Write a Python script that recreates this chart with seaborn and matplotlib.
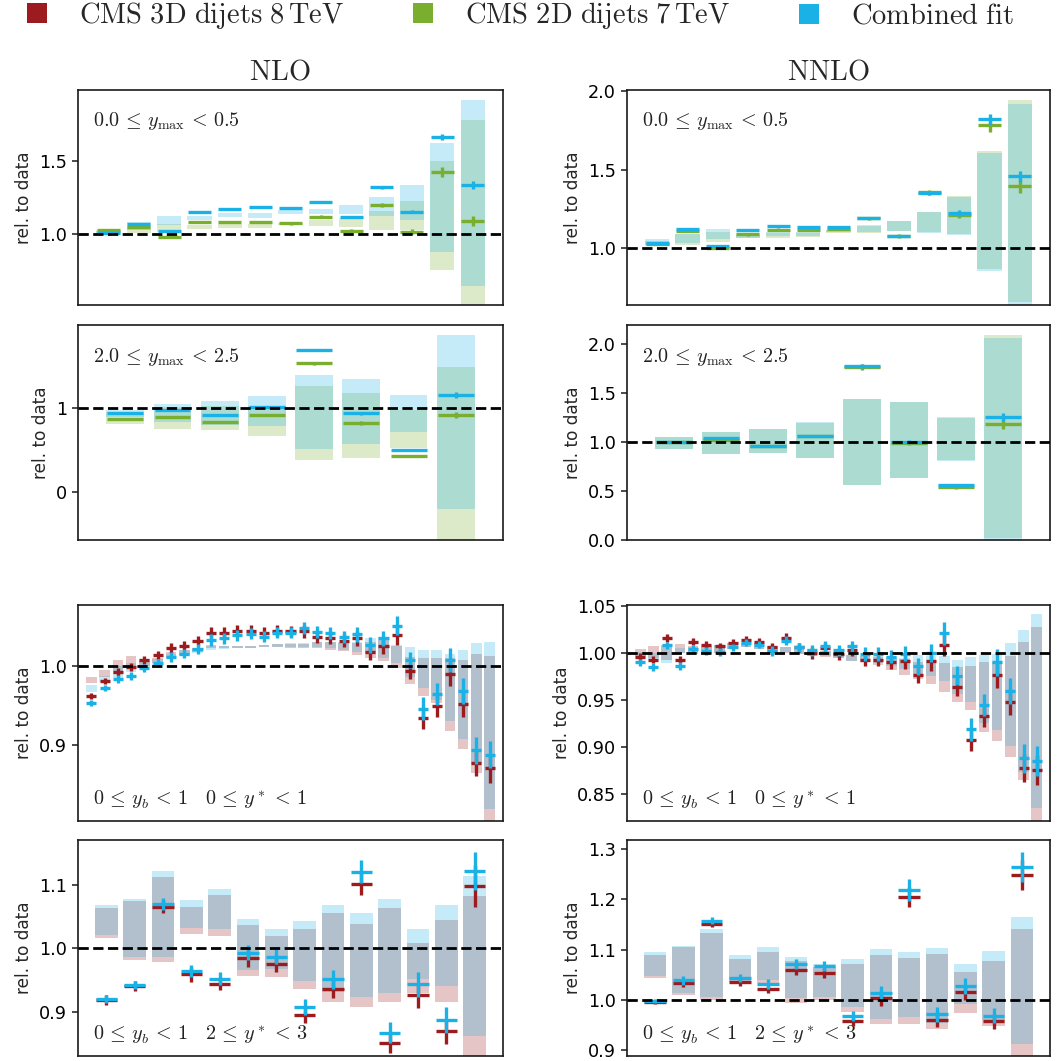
import numpy as np
import matplotlib
matplotlib.use("Agg")
import matplotlib.pyplot as plt
from matplotlib.patches import Patch
import seaborn as sns

# ---------------------------------------------------------------------------
# Colours
# ---------------------------------------------------------------------------
RED = "#9b1b1e"
GREEN = "#7aae2e"
BLUE = "#1ab2e6"
palette = sns.color_palette([RED, GREEN, BLUE])

# ---------------------------------------------------------------------------
# NLO, 2D dijets 7 TeV, 0.0 <= ymax < 0.5
# ---------------------------------------------------------------------------
nlo_y0_ds_pt = [1.025, 1.048, 0.977, 1.080, 1.080, 1.084, 1.073, 1.119, 1.023, 1.199, 1.016, 1.422, 1.091]
nlo_y0_ds_err = [0.004, 0.005, 0.005, 0.006, 0.006, 0.008, 0.008, 0.012, 0.012, 0.015, 0.015, 0.035, 0.035]
nlo_y0_ds_lo = [1.005, 1.005, 1.012, 1.034, 1.039, 1.039, 1.060, 1.055, 1.050, 1.027, 1.027, 0.753, 0.450]
nlo_y0_ds_hi = [1.030, 1.050, 1.066, 1.062, 1.066, 1.068, 1.075, 1.096, 1.110, 1.160, 1.226, 1.500, 1.781]
nlo_y0_cb_pt = [1.010, 1.066, 1.020, 1.153, 1.174, 1.185, 1.176, 1.221, 1.116, 1.320, 1.151, 1.662, 1.336]
nlo_y0_cb_err = [0.004, 0.004, 0.004, 0.005, 0.005, 0.006, 0.006, 0.008, 0.008, 0.010, 0.010, 0.020, 0.025]
nlo_y0_cb_lo = [1.000, 1.030, 1.060, 1.096, 1.114, 1.107, 1.137, 1.135, 1.135, 1.120, 1.096, 0.879, 0.644]
nlo_y0_cb_hi = [1.020, 1.085, 1.123, 1.123, 1.142, 1.146, 1.164, 1.171, 1.199, 1.253, 1.336, 1.623, 1.918]

# ---------------------------------------------------------------------------
# NNLO, 2D dijets 7 TeV, 0.0 <= ymax < 0.5
# ---------------------------------------------------------------------------
nnlo_y0_ds_pt = [1.025, 1.108, 1.000, 1.089, 1.117, 1.117, 1.123, 1.191, 1.078, 1.356, 1.212, 1.780, 1.398]
nnlo_y0_ds_err = [0.004, 0.006, 0.006, 0.008, 0.010, 0.010, 0.010, 0.010, 0.010, 0.015, 0.020, 0.040, 0.045]
nnlo_y0_ds_lo = [1.015, 1.021, 1.042, 1.064, 1.068, 1.074, 1.100, 1.100, 1.110, 1.104, 1.090, 0.867, 0.657]
nnlo_y0_ds_hi = [1.045, 1.089, 1.106, 1.085, 1.095, 1.100, 1.117, 1.146, 1.174, 1.233, 1.333, 1.619, 1.943]
nnlo_y0_cb_pt = [1.036, 1.123, 1.017, 1.114, 1.142, 1.136, 1.133, 1.191, 1.078, 1.352, 1.225, 1.820, 1.458]
nnlo_y0_cb_err = [0.004, 0.005, 0.005, 0.006, 0.008, 0.008, 0.008, 0.008, 0.008, 0.012, 0.018, 0.035, 0.035]
nnlo_y0_cb_lo = [1.020, 1.032, 1.059, 1.068, 1.075, 1.075, 1.102, 1.102, 1.110, 1.100, 1.087, 0.856, 0.620]
nnlo_y0_cb_hi = [1.057, 1.093, 1.123, 1.090, 1.106, 1.106, 1.117, 1.144, 1.174, 1.229, 1.328, 1.608, 1.917]

# ---------------------------------------------------------------------------
# NLO, 2D dijets 7 TeV, 2.0 <= ymax < 2.5
# ---------------------------------------------------------------------------
nlo_y2_ds_pt = [0.869, 0.893, 0.833, 0.917, 1.532, 0.825, 0.425, 0.917]
nlo_y2_ds_err = [0.010, 0.010, 0.010, 0.012, 0.015, 0.020, 0.010, 0.040]
nlo_y2_ds_lo = [0.813, 0.754, 0.742, 0.671, 0.385, 0.409, 0.528, -0.650]
nlo_y2_ds_hi = [0.950, 1.012, 1.020, 1.020, 1.266, 1.183, 0.980, 1.492]
nlo_y2_cb_pt = [0.948, 0.980, 0.913, 1.012, 1.698, 0.937, 0.500, 1.155]
nlo_y2_cb_err = [0.008, 0.008, 0.008, 0.010, 0.012, 0.015, 0.008, 0.035]
nlo_y2_cb_lo = [0.900, 0.830, 0.800, 0.790, 0.516, 0.575, 0.718, -0.198]
nlo_y2_cb_hi = [0.980, 1.048, 1.087, 1.147, 1.397, 1.349, 1.159, 1.873]

# ---------------------------------------------------------------------------
# NNLO, 2D dijets 7 TeV, 2.0 <= ymax < 2.5
# ---------------------------------------------------------------------------
nnlo_y2_ds_pt = [0.997, 1.024, 0.963, 1.058, 1.772, 0.990, 0.541, 1.187]
nnlo_y2_ds_err = [0.008, 0.010, 0.010, 0.010, 0.030, 0.020, 0.015, 0.050]
nnlo_y2_ds_lo = [0.935, 0.875, 0.884, 0.833, 0.565, 0.636, 0.813, 0.020]
nnlo_y2_ds_hi = [1.050, 1.100, 1.133, 1.200, 1.442, 1.412, 1.258, 2.095]
nnlo_y2_cb_pt = [1.003, 1.041, 0.963, 1.061, 1.779, 1.003, 0.558, 1.259]
nnlo_y2_cb_err = [0.006, 0.008, 0.008, 0.008, 0.020, 0.015, 0.010, 0.040]
nnlo_y2_cb_lo = [0.935, 0.881, 0.888, 0.837, 0.565, 0.636, 0.803, -0.010]
nnlo_y2_cb_hi = [1.050, 1.108, 1.135, 1.207, 1.442, 1.412, 1.248, 2.061]

# ---------------------------------------------------------------------------
# NLO, 3D dijets 8 TeV, 0 <= yb < 1, 0 <= y* < 1
# ---------------------------------------------------------------------------
nlo_ys0_ds_pt = [0.962, 0.981, 0.992, 0.998, 1.007, 1.013, 1.022, 1.025, 1.031, 1.041, 1.041,
                 1.044, 1.044, 1.041, 1.044, 1.043, 1.043, 1.036, 1.035, 1.031, 1.034, 1.017,
                 1.024, 1.038, 0.993, 0.934, 0.949, 0.990, 0.952, 0.878, 0.871]
nlo_ys0_ds_err = [0.004, 0.004, 0.005, 0.005, 0.005, 0.005, 0.006, 0.006, 0.006, 0.007, 0.007,
                  0.007, 0.007, 0.007, 0.007, 0.007, 0.008, 0.008, 0.008, 0.008, 0.009, 0.010,
                  0.010, 0.012, 0.010, 0.014, 0.014, 0.015, 0.016, 0.017, 0.018]
nlo_ys0_ds_lo = [0.978, 0.986, 0.990, 0.997, 1.000, 1.003, 1.009, 1.013, 1.017, 1.022, 1.022,
                 1.022, 1.022, 1.023, 1.023, 1.022, 1.022, 1.022, 1.020, 1.018, 1.013, 1.010,
                 1.006, 0.997, 0.977, 0.962, 0.953, 0.918, 0.895, 0.865, 0.800]
nlo_ys0_ds_hi = [0.986, 0.994, 1.007, 1.012, 1.008, 1.010, 1.017, 1.020, 1.022, 1.026, 1.025,
                 1.025, 1.025, 1.026, 1.027, 1.027, 1.027, 1.029, 1.029, 1.028, 1.028, 1.030,
                 1.032, 1.025, 1.011, 1.010, 1.009, 1.009, 1.007, 1.014, 1.012]
nlo_ys0_cb_pt = [0.953, 0.972, 0.983, 0.987, 0.997, 1.003, 1.011, 1.015, 1.021, 1.032, 1.034,
                 1.038, 1.040, 1.036, 1.041, 1.041, 1.047, 1.042, 1.041, 1.036, 1.039, 1.026,
                 1.034, 1.050, 1.007, 0.946, 0.964, 1.007, 0.968, 0.894, 0.888]
nlo_ys0_cb_err = [0.004, 0.004, 0.005, 0.005, 0.005, 0.005, 0.006, 0.006, 0.006, 0.007, 0.007,
                  0.007, 0.007, 0.007, 0.007, 0.007, 0.008, 0.008, 0.008, 0.008, 0.009, 0.010,
                  0.010, 0.012, 0.010, 0.014, 0.014, 0.015, 0.016, 0.017, 0.017]
nlo_ys0_cb_lo = [0.967, 0.979, 0.985, 0.992, 0.998, 1.001, 1.008, 1.012, 1.016, 1.020, 1.021,
                 1.022, 1.022, 1.023, 1.023, 1.023, 1.023, 1.023, 1.022, 1.020, 1.017, 1.014,
                 1.010, 1.003, 0.986, 0.972, 0.957, 0.930, 0.908, 0.877, 0.820]
nlo_ys0_cb_hi = [0.976, 0.987, 0.999, 1.003, 1.006, 1.008, 1.015, 1.019, 1.021, 1.024, 1.024,
                 1.024, 1.025, 1.026, 1.027, 1.028, 1.028, 1.030, 1.030, 1.030, 1.030, 1.034,
                 1.036, 1.026, 1.023, 1.020, 1.020, 1.014, 1.020, 1.028, 1.029]

# ---------------------------------------------------------------------------
# NNLO, 3D dijets 8 TeV, 0 <= yb < 1, 0 <= y* < 1
# ---------------------------------------------------------------------------
nnlo_ys0_ds_pt = [0.996, 0.993, 1.016, 0.993, 1.012, 1.009, 1.007, 1.011, 1.014, 1.012, 1.006,
                  1.016, 1.006, 1.000, 1.005, 0.999, 1.003, 0.993, 0.993, 0.990, 0.991, 0.977,
                  0.991, 1.009, 0.964, 0.908, 0.933, 0.977, 0.948, 0.878, 0.876]
nnlo_ys0_ds_err = [0.004, 0.004, 0.004, 0.004, 0.004, 0.004, 0.004, 0.004, 0.004, 0.004, 0.005,
                   0.005, 0.005, 0.006, 0.006, 0.006, 0.006, 0.007, 0.007, 0.007, 0.008, 0.009,
                   0.010, 0.012, 0.010, 0.012, 0.012, 0.014, 0.014, 0.015, 0.016]
nnlo_ys0_ds_lo = [0.997, 0.995, 0.993, 1.000, 0.999, 0.999, 1.000, 1.004, 1.006, 1.004, 1.000,
                  1.000, 0.999, 0.997, 0.996, 0.995, 0.991, 0.990, 0.987, 0.982, 0.977, 0.972,
                  0.967, 0.959, 0.948, 0.939, 0.916, 0.907, 0.890, 0.865, 0.815]
nnlo_ys0_ds_hi = [1.004, 1.007, 1.009, 1.010, 1.007, 1.007, 1.009, 1.011, 1.011, 1.011, 1.007,
                  1.006, 1.004, 1.004, 1.002, 1.000, 0.998, 0.997, 0.996, 0.995, 0.994, 0.990,
                  0.990, 0.989, 0.985, 0.986, 0.990, 0.990, 0.997, 1.012, 1.028]
nnlo_ys0_cb_pt = [0.990, 0.985, 1.008, 0.986, 1.004, 1.002, 1.001, 1.006, 1.011, 1.009, 1.002,
                  1.013, 1.006, 1.003, 1.007, 1.003, 1.007, 0.999, 0.999, 0.996, 0.999, 0.986,
                  1.000, 1.021, 0.976, 0.919, 0.945, 0.990, 0.960, 0.888, 0.885]
nnlo_ys0_cb_err = [0.004, 0.004, 0.004, 0.004, 0.004, 0.004, 0.004, 0.004, 0.004, 0.004, 0.005,
                   0.005, 0.005, 0.006, 0.006, 0.006, 0.006, 0.007, 0.007, 0.007, 0.008, 0.009,
                   0.010, 0.012, 0.010, 0.012, 0.012, 0.014, 0.014, 0.015, 0.016]
nnlo_ys0_cb_lo = [0.995, 0.993, 0.989, 1.000, 0.999, 0.999, 1.000, 1.004, 1.006, 1.004, 1.000,
                  1.001, 0.999, 0.997, 0.997, 0.995, 0.992, 0.991, 0.989, 0.986, 0.983, 0.977,
                  0.976, 0.970, 0.956, 0.948, 0.926, 0.918, 0.901, 0.874, 0.835]
nnlo_ys0_cb_hi = [1.001, 1.000, 1.007, 1.005, 1.006, 1.006, 1.008, 1.011, 1.011, 1.011, 1.007,
                  1.006, 1.004, 1.004, 1.002, 1.000, 0.998, 0.997, 0.997, 0.997, 0.995, 0.998,
                  0.997, 0.997, 0.993, 0.996, 0.998, 0.999, 1.011, 1.024, 1.041]

# ---------------------------------------------------------------------------
# NLO, 3D dijets 8 TeV, 0 <= yb < 1, 2 <= y* < 3
# ---------------------------------------------------------------------------
nlo_ys2_ds_pt = [0.919, 0.941, 1.066, 0.959, 0.944, 0.984, 0.976, 0.895, 0.936, 1.102, 0.851, 0.926, 0.869, 1.099]
nlo_ys2_ds_err = [0.008, 0.008, 0.010, 0.012, 0.010, 0.013, 0.013, 0.013, 0.015, 0.018, 0.017, 0.020, 0.020, 0.033]
nlo_ys2_ds_lo = [1.016, 0.981, 0.978, 1.022, 1.019, 0.956, 0.955, 0.935, 0.916, 0.907, 0.915, 0.930, 0.915, 0.820]
nlo_ys2_ds_hi = [1.064, 1.074, 1.112, 1.066, 1.084, 1.037, 1.019, 1.030, 1.055, 1.039, 1.063, 1.009, 1.044, 1.082]
nlo_ys2_cb_pt = [0.920, 0.942, 1.070, 0.964, 0.952, 0.993, 0.987, 0.907, 0.951, 1.121, 0.867, 0.943, 0.887, 1.122]
nlo_ys2_cb_err = [0.007, 0.007, 0.010, 0.010, 0.010, 0.012, 0.012, 0.013, 0.015, 0.018, 0.017, 0.020, 0.020, 0.030]
nlo_ys2_cb_lo = [1.021, 0.986, 0.987, 1.032, 1.030, 0.965, 0.968, 0.948, 0.931, 0.923, 0.930, 0.952, 0.940, 0.861]
nlo_ys2_cb_hi = [1.068, 1.078, 1.122, 1.076, 1.094, 1.047, 1.031, 1.043, 1.069, 1.055, 1.078, 1.031, 1.069, 1.114]

# ---------------------------------------------------------------------------
# NNLO, 3D dijets 8 TeV, 0 <= yb < 1, 2 <= y* < 3
# ---------------------------------------------------------------------------
nnlo_ys2_ds_pt = [0.996, 1.034, 1.152, 1.036, 1.023, 1.060, 1.054, 0.958, 1.004, 1.205, 0.961, 1.016, 0.958, 1.248]
nnlo_ys2_ds_err = [0.004, 0.008, 0.007, 0.008, 0.009, 0.010, 0.010, 0.010, 0.015, 0.020, 0.015, 0.015, 0.015, 0.030]
nnlo_ys2_ds_lo = [1.043, 1.011, 1.000, 1.035, 1.034, 0.995, 1.000, 0.977, 0.952, 0.953, 0.943, 0.975, 0.949, 0.880]
nnlo_ys2_ds_hi = [1.090, 1.105, 1.134, 1.082, 1.095, 1.077, 1.066, 1.072, 1.090, 1.084, 1.092, 1.055, 1.078, 1.142]
nnlo_ys2_cb_pt = [0.999, 1.039, 1.158, 1.044, 1.032, 1.072, 1.067, 0.969, 1.014, 1.219, 0.972, 1.028, 0.969, 1.264]
nnlo_ys2_cb_err = [0.004, 0.008, 0.007, 0.008, 0.009, 0.010, 0.010, 0.010, 0.015, 0.022, 0.015, 0.015, 0.015, 0.030]
nnlo_ys2_cb_lo = [1.047, 1.015, 1.006, 1.040, 1.040, 1.004, 1.007, 0.987, 0.963, 0.966, 0.954, 0.993, 0.961, 0.913]
nnlo_ys2_cb_hi = [1.095, 1.108, 1.142, 1.089, 1.105, 1.086, 1.072, 1.081, 1.102, 1.096, 1.104, 1.072, 1.098, 1.166]

# ---------------------------------------------------------------------------
# Labels
# ---------------------------------------------------------------------------
legend_labels = [r"$\mathrm{CMS\ 3D\ dijets\ 8\,TeV}$",
                 r"$\mathrm{CMS\ 2D\ dijets\ 7\,TeV}$",
                 r"$\mathrm{Combined\ fit}$"]
column_titles = [r"$\mathrm{NLO}$", r"$\mathrm{NNLO}$"]
bin_y0 = r"$0.0\,\leq\,y_{\mathrm{max}}\,<\,0.5$"
bin_y2 = r"$2.0\,\leq\,y_{\mathrm{max}}\,<\,2.5$"
bin_ys0 = r"$0\,\leq\,y_b\,<\,1\quad 0\,\leq\,y^*\,<\,1$"
bin_ys2 = r"$0\,\leq\,y_b\,<\,1\quad 2\,\leq\,y^*\,<\,3$"

# ---------------------------------------------------------------------------
# Style
# ---------------------------------------------------------------------------
sns.set_style("ticks")
plt.rcParams["font.family"] = ["DejaVu Sans"]
plt.rcParams["mathtext.fontset"] = "cm"
plt.rcParams["axes.edgecolor"] = "#1a1a1a"
plt.rcParams["axes.linewidth"] = 1.2
plt.rcParams["ytick.major.width"] = 1.1
plt.rcParams["ytick.major.size"] = 4.5
plt.rcParams["ytick.color"] = "#1a1a1a"
plt.rcParams["ytick.labelcolor"] = "black"

W, H = 1059, 1061
fig = plt.figure(figsize=(W / 100, H / 100), dpi=100)


def add_axes_px(x0, y0, x1, y1):
    return fig.add_axes([x0 / W, 1 - y1 / H, (x1 - x0) / W, (y1 - y0) / H])


def draw_panel(ax, ds_color, ds_pt, ds_err, ds_lo, ds_hi, cb_pt, cb_err, cb_lo, cb_hi,
               ylim, yticks, yticklabels, label, label_y):
    n = len(ds_pt)
    x = np.arange(n)
    ds_lo, ds_hi = np.asarray(ds_lo), np.asarray(ds_hi)
    cb_lo, cb_hi = np.asarray(cb_lo), np.asarray(cb_hi)
    ax.bar(x, ds_hi - ds_lo, bottom=ds_lo, width=0.8, color=ds_color, alpha=0.25,
           linewidth=0, zorder=1)
    ax.bar(x, cb_hi - cb_lo, bottom=cb_lo, width=0.8, color=BLUE, alpha=0.25,
           linewidth=0, zorder=2)
    ax.errorbar(x, ds_pt, xerr=0.38, yerr=ds_err, fmt="none", ecolor=ds_color,
                elinewidth=2.4, capsize=0, zorder=4)
    ax.errorbar(x, cb_pt, xerr=0.38, yerr=cb_err, fmt="none", ecolor=BLUE,
                elinewidth=2.4, capsize=0, zorder=5)
    ax.axhline(1.0, color="black", ls="--", lw=2.0, zorder=6)
    ax.set_xlim(-1, n)
    ax.set_ylim(*ylim)
    ax.set_xticks([])
    ax.set_yticks(yticks)
    ax.set_yticklabels(yticklabels)
    ax.tick_params(axis="y", labelsize=12.7)
    ax.set_ylabel("rel. to data", fontsize=12.2)
    ax.text(0.036, label_y, label, transform=ax.transAxes, ha="left", va="center",
            fontsize=14.5, color="#222222")


LEFT = (78, 503)
RIGHT = (627, 1050)
ROWS = [(90, 305), (325, 540), (605, 821), (840, 1056)]

panels = [
    (LEFT, ROWS[0], GREEN, nlo_y0_ds_pt, nlo_y0_ds_err, nlo_y0_ds_lo, nlo_y0_ds_hi,
     nlo_y0_cb_pt, nlo_y0_cb_err, nlo_y0_cb_lo, nlo_y0_cb_hi,
     (0.514, 1.986), [1.0, 1.5], ["1.0", "1.5"], bin_y0, 0.856),
    (RIGHT, ROWS[0], GREEN, nnlo_y0_ds_pt, nnlo_y0_ds_err, nnlo_y0_ds_lo, nnlo_y0_ds_hi,
     nnlo_y0_cb_pt, nnlo_y0_cb_err, nnlo_y0_cb_lo, nnlo_y0_cb_hi,
     (0.64, 2.005), [1.0, 1.5, 2.0], ["1.0", "1.5", "2.0"], bin_y0, 0.856),
    (LEFT, ROWS[1], GREEN, nlo_y2_ds_pt, nlo_y2_ds_err, nlo_y2_ds_lo, nlo_y2_ds_hi,
     nlo_y2_cb_pt, nlo_y2_cb_err, nlo_y2_cb_lo, nlo_y2_cb_hi,
     (-0.57, 1.99), [0, 1], ["0", "1"], bin_y2, 0.853),
    (RIGHT, ROWS[1], GREEN, nnlo_y2_ds_pt, nnlo_y2_ds_err, nnlo_y2_ds_lo, nnlo_y2_ds_hi,
     nnlo_y2_cb_pt, nnlo_y2_cb_err, nnlo_y2_cb_lo, nnlo_y2_cb_hi,
     (0.0, 2.197), [0.0, 0.5, 1.0, 1.5, 2.0], ["0.0", "0.5", "1.0", "1.5", "2.0"], bin_y2, 0.853),
    (LEFT, ROWS[2], RED, nlo_ys0_ds_pt, nlo_ys0_ds_err, nlo_ys0_ds_lo, nlo_ys0_ds_hi,
     nlo_ys0_cb_pt, nlo_ys0_cb_err, nlo_ys0_cb_lo, nlo_ys0_cb_hi,
     (0.805, 1.076), [0.9, 1.0], ["0.9", "1.0"], bin_ys0, 0.098),
    (RIGHT, ROWS[2], RED, nnlo_ys0_ds_pt, nnlo_ys0_ds_err, nnlo_ys0_ds_lo, nnlo_ys0_ds_hi,
     nnlo_ys0_cb_pt, nnlo_ys0_cb_err, nnlo_ys0_cb_lo, nnlo_ys0_cb_hi,
     (0.8216, 1.051), [0.85, 0.90, 0.95, 1.00, 1.05], ["0.85", "0.90", "0.95", "1.00", "1.05"],
     bin_ys0, 0.098),
    (LEFT, ROWS[3], RED, nlo_ys2_ds_pt, nlo_ys2_ds_err, nlo_ys2_ds_lo, nlo_ys2_ds_hi,
     nlo_ys2_cb_pt, nlo_ys2_cb_err, nlo_ys2_cb_lo, nlo_ys2_cb_hi,
     (0.830, 1.171), [0.9, 1.0, 1.1], ["0.9", "1.0", "1.1"], bin_ys2, 0.098),
    (RIGHT, ROWS[3], RED, nnlo_ys2_ds_pt, nnlo_ys2_ds_err, nnlo_ys2_ds_lo, nnlo_ys2_ds_hi,
     nnlo_ys2_cb_pt, nnlo_ys2_cb_err, nnlo_ys2_cb_lo, nnlo_ys2_cb_hi,
     (0.889, 1.318), [0.9, 1.0, 1.1, 1.2, 1.3], ["0.9", "1.0", "1.1", "1.2", "1.3"],
     bin_ys2, 0.098),
]

for (cx, ry, color, *vals) in panels:
    ax = add_axes_px(cx[0], ry[0], cx[1], ry[1])
    draw_panel(ax, color, *vals)

# Column titles
fig.text(280 / W, 1 - 72 / H, column_titles[0], ha="center", va="center", fontsize=20.5)
fig.text(829 / W, 1 - 72 / H, column_titles[1], ha="center", va="center", fontsize=20.5)

# Legend entries across the top, one per dataset
legend_x = [27, 413, 799]
for c, lab, x0 in zip(palette, legend_labels, legend_x):
    fig.legend([Patch(facecolor=c, edgecolor="none")], [lab], loc="center left",
               bbox_to_anchor=(x0 / W, 1 - 15.5 / H), frameon=False, fontsize=20.5,
               handlelength=0.7, handleheight=0.7, handletextpad=1.12,
               borderpad=0, borderaxespad=0)

fig.savefig("out.png", dpi=100)
